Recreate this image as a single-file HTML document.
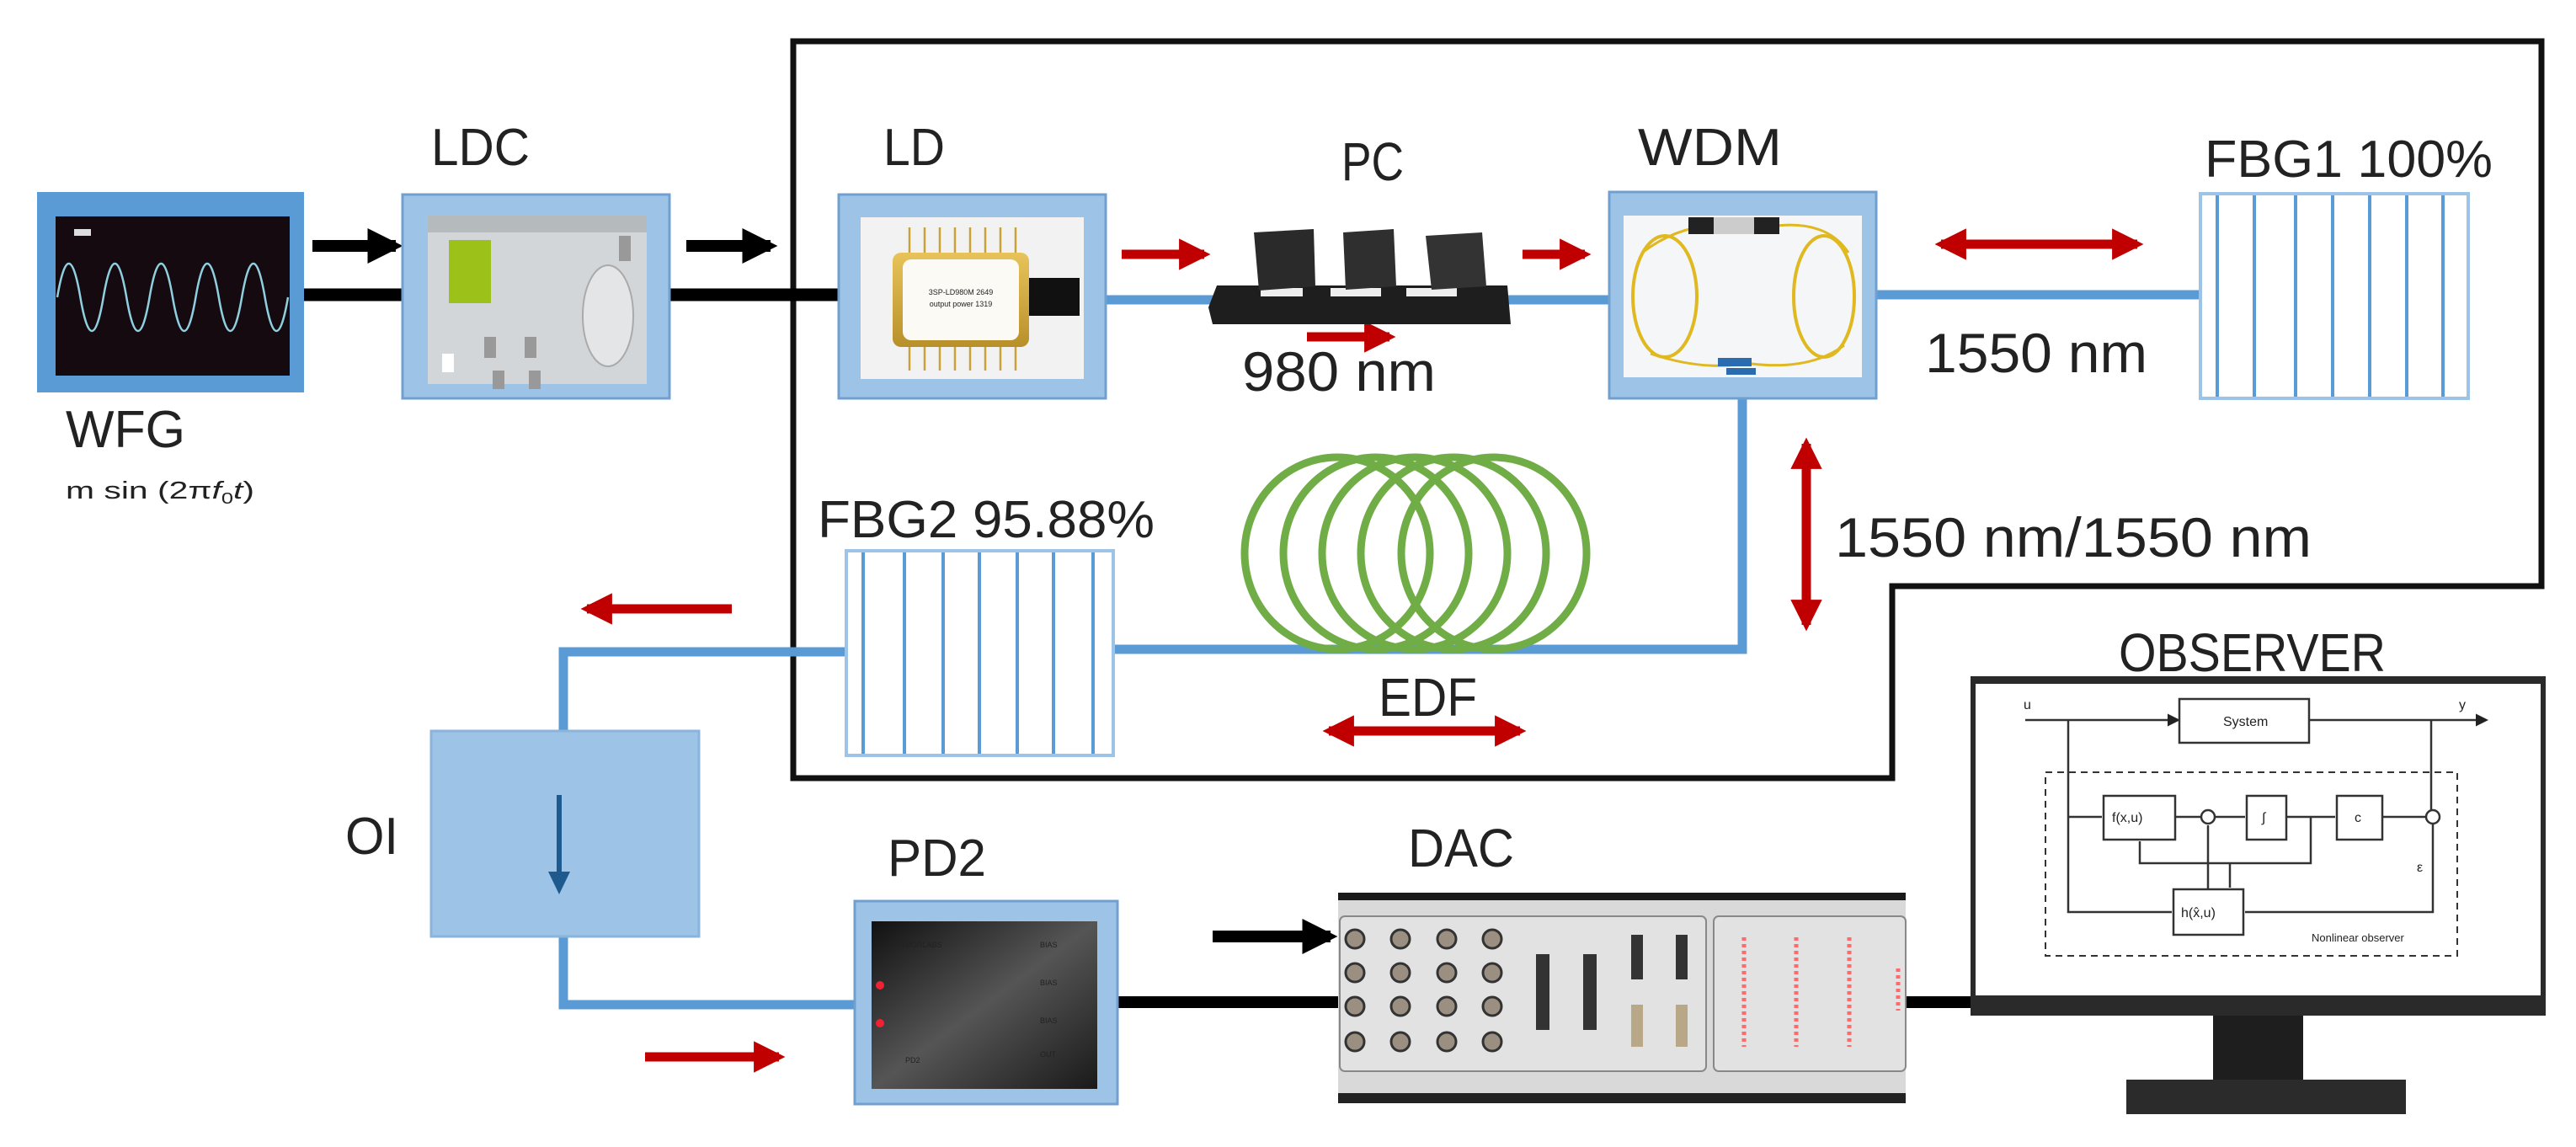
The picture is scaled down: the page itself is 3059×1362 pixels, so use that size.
<!DOCTYPE html>
<html><head><meta charset="utf-8"><style>
html,body{margin:0;padding:0;background:#fff;}
svg{display:block;}
text{font-family:"Liberation Sans",sans-serif;fill:#222;}
</style></head><body>
<svg width="3059" height="1362" viewBox="0 0 3059 1362" xmlns="http://www.w3.org/2000/svg">
<defs>
<marker id="ab" viewBox="0 0 10 10" refX="8" refY="5" markerWidth="3" markerHeight="3" orient="auto"><path d="M0,0L10,5L0,10z" fill="#000"/></marker>
<marker id="ar" viewBox="0 0 10 10" refX="8" refY="5" markerWidth="3.4" markerHeight="3.4" orient="auto-start-reverse"><path d="M0,0L10,5L0,10z" fill="#c00000"/></marker>
<marker id="as" viewBox="0 0 10 10" refX="8" refY="5" markerWidth="6" markerHeight="6" orient="auto"><path d="M0,0L10,5L0,10z" fill="#222"/></marker>
<linearGradient id="pd" x1="0" y1="0" x2="1" y2="1"><stop offset="0" stop-color="#111"/><stop offset="0.5" stop-color="#555"/><stop offset="1" stop-color="#1a1a1a"/></linearGradient>
<linearGradient id="gold" x1="0" y1="0" x2="0" y2="1"><stop offset="0" stop-color="#e8c35a"/><stop offset="1" stop-color="#b8902a"/></linearGradient>
</defs>

<!-- Frame -->
<path d="M942,49 L3018,49 L3018,696 L2247,696 L2247,924 L942,924 Z" fill="none" stroke="#111" stroke-width="7"/>

<!-- black electrical lines -->
<line x1="361" y1="350" x2="996" y2="350" stroke="#000" stroke-width="15"/>
<line x1="371" y1="292" x2="470" y2="292" stroke="#000" stroke-width="14" marker-end="url(#ab)"/>
<line x1="815" y1="292" x2="915" y2="292" stroke="#000" stroke-width="14" marker-end="url(#ab)"/>
<line x1="1327" y1="1190" x2="2340" y2="1190" stroke="#000" stroke-width="14"/>
<line x1="1440" y1="1112" x2="1580" y2="1112" stroke="#000" stroke-width="14" marker-end="url(#ab)"/>

<!-- blue fibres -->
<g stroke="#5b9bd5" stroke-width="11" fill="none">
<line x1="1313" y1="356" x2="1911" y2="356"/>
<line x1="2228" y1="350" x2="2613" y2="350"/>
<polyline points="2069,473 2069,771 1322,771"/>
<polyline points="1005,774 669,774 669,868"/>
<polyline points="669,1112 669,1193 1015,1193"/>
</g>

<!-- WFG -->
<rect x="44" y="228" width="317" height="238" fill="#5b9bd5"/>
<rect x="66" y="257" width="278" height="189" fill="#140a10"/>
<path d="M68,353 q13.7,-80 27.4,0 t27.4,0 t27.4,0 t27.4,0 t27.4,0 t27.4,0 t27.4,0 t27.4,0 t27.4,0 t27.4,0" fill="none" stroke="#8fd0e0" stroke-width="2.5"/>
<rect x="88" y="272" width="20" height="8" fill="#ddd"/>
<text x="78" y="531" font-size="62" textLength="142" lengthAdjust="spacingAndGlyphs">WFG</text>
<text x="78" y="592" font-size="29" fill="#444" textLength="224" lengthAdjust="spacingAndGlyphs">m sin (2π<tspan font-style="italic">f</tspan><tspan font-size="18" dy="6">0</tspan><tspan dy="-6" font-style="italic">t</tspan>)</text>

<!-- LDC -->
<rect x="478" y="231" width="317" height="242" fill="#9dc3e6" stroke="#6fa0d0" stroke-width="3"/>
<rect x="508" y="256" width="260" height="200" fill="#d3d6d8"/>
<rect x="508" y="256" width="260" height="20" fill="#b5babd"/>
<rect x="533" y="285" width="50" height="75" fill="#9cc21a"/>
<ellipse cx="722" cy="375" rx="30" ry="60" fill="#e3e5e6" stroke="#aaa" stroke-width="2"/>
<rect x="575" y="400" width="14" height="25" fill="#999"/><rect x="623" y="400" width="14" height="25" fill="#999"/>
<rect x="585" y="440" width="14" height="22" fill="#999"/><rect x="628" y="440" width="14" height="22" fill="#999"/>
<rect x="525" y="420" width="14" height="22" fill="#fff"/>
<rect x="735" y="280" width="14" height="30" fill="#999"/>
<text x="512" y="196" font-size="62" textLength="117" lengthAdjust="spacingAndGlyphs">LDC</text>

<!-- LD -->
<rect x="996" y="231" width="317" height="242" fill="#9dc3e6" stroke="#6fa0d0" stroke-width="3"/>
<rect x="1022" y="258" width="265" height="192" fill="#f2f2f2"/>
<g stroke="#c9a23a" stroke-width="2.5"><line x1="1080" y1="270" x2="1080" y2="440"/><line x1="1098" y1="270" x2="1098" y2="440"/><line x1="1116" y1="270" x2="1116" y2="440"/><line x1="1134" y1="270" x2="1134" y2="440"/><line x1="1152" y1="270" x2="1152" y2="440"/><line x1="1170" y1="270" x2="1170" y2="440"/><line x1="1188" y1="270" x2="1188" y2="440"/><line x1="1206" y1="270" x2="1206" y2="440"/></g>
<rect x="1060" y="300" width="162" height="112" rx="10" fill="url(#gold)"/>
<rect x="1072" y="308" width="138" height="96" rx="10" fill="#fbfaf5"/>
<rect x="1222" y="330" width="60" height="45" fill="#111"/>
<text x="1141" y="350" font-size="9" text-anchor="middle" fill="#555">3SP-LD980M 2649</text>
<text x="1141" y="364" font-size="9" text-anchor="middle" fill="#555">output power 1319</text>
<text x="1049" y="196" font-size="62" textLength="73" lengthAdjust="spacingAndGlyphs">LD</text>

<!-- red arrows -->
<g stroke="#c00000" stroke-width="11" fill="none">
<line x1="1332" y1="302" x2="1430" y2="302" marker-end="url(#ar)"/>
<line x1="1808" y1="302" x2="1882" y2="302" marker-end="url(#ar)"/>
<line x1="1552" y1="400" x2="1650" y2="400" marker-end="url(#ar)"/>
<line x1="2305" y1="290" x2="2538" y2="290" marker-end="url(#ar)" marker-start="url(#ar)"/>
<line x1="2145" y1="527" x2="2145" y2="742" marker-end="url(#ar)" marker-start="url(#ar)"/>
<line x1="869" y1="723" x2="697" y2="723" marker-end="url(#ar)"/>
<line x1="766" y1="1255" x2="925" y2="1255" marker-end="url(#ar)"/>
<line x1="1578" y1="868" x2="1805" y2="868" marker-end="url(#ar)" marker-start="url(#ar)"/>
</g>

<!-- PC -->
<path d="M1435,365 L1445,339 L1790,339 L1794,385 L1440,385 Z" fill="#1e1e1e"/>
<rect x="1497" y="342" width="50" height="10" fill="#eee"/><rect x="1580" y="342" width="60" height="10" fill="#eee"/><rect x="1670" y="342" width="60" height="10" fill="#eee"/>
<path d="M1489,276 L1560,272 L1562,340 L1495,345 Z" fill="#2a2a2a"/>
<path d="M1595,276 L1655,272 L1658,340 L1598,344 Z" fill="#2f2f2f"/>
<path d="M1693,280 L1760,276 L1765,340 L1700,344 Z" fill="#333"/>
<text x="1593" y="214" font-size="64" textLength="74" lengthAdjust="spacingAndGlyphs">PC</text>
<text x="1475" y="464" font-size="66" textLength="230" lengthAdjust="spacingAndGlyphs">980 nm</text>

<!-- WDM -->
<rect x="1911" y="228" width="317" height="245" fill="#9dc3e6" stroke="#6fa0d0" stroke-width="3"/>
<rect x="1928" y="256" width="283" height="192" fill="#f4f6f8"/>
<ellipse cx="1977" cy="352" rx="38" ry="72" fill="none" stroke="#e0b820" stroke-width="4"/>
<ellipse cx="2166" cy="352" rx="36" ry="72" fill="none" stroke="#e0b820" stroke-width="4"/>
<path d="M1950,300 Q2000,262 2060,268 M2110,268 Q2170,262 2195,300 M1960,420 Q2020,440 2070,432 M2080,432 Q2150,440 2190,410" fill="none" stroke="#e0b820" stroke-width="3"/>
<rect x="2005" y="258" width="108" height="20" fill="#222"/><rect x="2035" y="258" width="48" height="20" fill="#ccc"/>
<rect x="2040" y="425" width="40" height="10" fill="#2b6cb0"/><rect x="2050" y="437" width="35" height="8" fill="#2b6cb0"/>
<text x="1945" y="196" font-size="62" textLength="171" lengthAdjust="spacingAndGlyphs">WDM</text>

<!-- FBG1 -->
<rect x="2613" y="230" width="318" height="243" fill="#fff" stroke="#9dc3e6" stroke-width="4"/>
<g stroke="#5b9bd5" stroke-width="4"><line x1="2633" y1="232" x2="2633" y2="471"/><line x1="2677" y1="232" x2="2677" y2="471"/><line x1="2726" y1="232" x2="2726" y2="471"/><line x1="2770" y1="232" x2="2770" y2="471"/><line x1="2814" y1="232" x2="2814" y2="471"/><line x1="2858" y1="232" x2="2858" y2="471"/><line x1="2901" y1="232" x2="2901" y2="471"/></g>
<text x="2618" y="210" font-size="62" textLength="342" lengthAdjust="spacingAndGlyphs">FBG1 100%</text>
<text x="2286" y="442" font-size="66" textLength="264" lengthAdjust="spacingAndGlyphs">1550 nm</text>
<text x="2179" y="661" font-size="66" textLength="566" lengthAdjust="spacingAndGlyphs">1550 nm/1550 nm</text>

<!-- EDF coils -->
<g fill="none" stroke="#70ad47" stroke-width="9">
<ellipse cx="1588" cy="657" rx="110" ry="114"/>
<ellipse cx="1634" cy="657" rx="110" ry="114"/>
<ellipse cx="1680" cy="657" rx="110" ry="114"/>
<ellipse cx="1726" cy="657" rx="110" ry="114"/>
<ellipse cx="1774" cy="657" rx="110" ry="114"/>
</g>
<text x="1637" y="850" font-size="64" textLength="117" lengthAdjust="spacingAndGlyphs">EDF</text>

<!-- FBG2 -->
<rect x="1005" y="654" width="317" height="243" fill="#fff" stroke="#9dc3e6" stroke-width="4"/>
<g stroke="#5b9bd5" stroke-width="4"><line x1="1025" y1="656" x2="1025" y2="895"/><line x1="1074" y1="656" x2="1074" y2="895"/><line x1="1120" y1="656" x2="1120" y2="895"/><line x1="1163" y1="656" x2="1163" y2="895"/><line x1="1208" y1="656" x2="1208" y2="895"/><line x1="1251" y1="656" x2="1251" y2="895"/><line x1="1298" y1="656" x2="1298" y2="895"/></g>
<text x="971" y="638" font-size="62" textLength="400" lengthAdjust="spacingAndGlyphs">FBG2 95.88%</text>

<!-- OI -->
<rect x="512" y="868" width="318" height="244" fill="#9dc3e6" stroke="#8ab4dc" stroke-width="3"/>
<line x1="664" y1="944" x2="664" y2="1040" stroke="#1f5a8f" stroke-width="6"/>
<path d="M651,1035 L677,1035 L664,1062 Z" fill="#1f5a8f"/>
<text x="410" y="1014" font-size="62" textLength="63" lengthAdjust="spacingAndGlyphs">OI</text>

<!-- PD2 -->
<rect x="1015" y="1070" width="312" height="241" fill="#9dc3e6" stroke="#6fa0d0" stroke-width="3"/>
<rect x="1035" y="1094" width="268" height="199" fill="url(#pd)"/>
<circle cx="1045" cy="1170" r="5" fill="#e23"/><circle cx="1045" cy="1215" r="5" fill="#e23"/>
<g fill="#bbb" font-size="9"><text x="1070" y="1125">THORLABS</text><text x="1235" y="1125">BIAS</text><text x="1235" y="1170">BIAS</text><text x="1235" y="1215">BIAS</text><text x="1235" y="1255">OUT</text><text x="1075" y="1262">PD2</text></g>
<text x="1054" y="1040" font-size="62" textLength="117" lengthAdjust="spacingAndGlyphs">PD2</text>

<!-- DAC -->
<rect x="1589" y="1060" width="674" height="250" fill="#d9d9d9"/>
<rect x="1589" y="1060" width="674" height="9" fill="#1a1a1a"/>
<rect x="1589" y="1298" width="674" height="12" fill="#222"/>
<rect x="1591" y="1088" width="435" height="184" rx="6" fill="#e2e2e2" stroke="#888" stroke-width="2"/>
<rect x="2035" y="1088" width="228" height="184" rx="6" fill="#e2e2e2" stroke="#888" stroke-width="2"/>
<g fill="#9a8f80" stroke="#333" stroke-width="3">
<circle cx="1609" cy="1115" r="11"/><circle cx="1663" cy="1115" r="11"/><circle cx="1718" cy="1115" r="11"/><circle cx="1772" cy="1115" r="11"/>
<circle cx="1609" cy="1155" r="11"/><circle cx="1663" cy="1155" r="11"/><circle cx="1718" cy="1155" r="11"/><circle cx="1772" cy="1155" r="11"/>
<circle cx="1609" cy="1195" r="11"/><circle cx="1663" cy="1195" r="11"/><circle cx="1718" cy="1195" r="11"/><circle cx="1772" cy="1195" r="11"/>
<circle cx="1609" cy="1237" r="11"/><circle cx="1663" cy="1237" r="11"/><circle cx="1718" cy="1237" r="11"/><circle cx="1772" cy="1237" r="11"/>
</g>
<rect x="1824" y="1133" width="16" height="90" fill="#333"/><rect x="1880" y="1133" width="16" height="90" fill="#333"/>
<rect x="1937" y="1110" width="14" height="53" fill="#333"/><rect x="1990" y="1110" width="14" height="53" fill="#333"/>
<rect x="1937" y="1193" width="14" height="50" fill="#b8a888"/><rect x="1990" y="1193" width="14" height="50" fill="#b8a888"/>
<g stroke="#ff6a6a" stroke-width="5" stroke-dasharray="4 4"><line x1="2071" y1="1113" x2="2071" y2="1243"/><line x1="2133" y1="1113" x2="2133" y2="1243"/><line x1="2196" y1="1113" x2="2196" y2="1243"/><line x1="2254" y1="1150" x2="2254" y2="1200"/></g>
<text x="1672" y="1029" font-size="64" textLength="126" lengthAdjust="spacingAndGlyphs">DAC</text>

<!-- Monitor -->
<text x="2516" y="797" font-size="64" textLength="317" lengthAdjust="spacingAndGlyphs">OBSERVER</text>
<rect x="2340" y="803" width="683" height="403" fill="#2a2a2a"/>
<rect x="2346" y="812" width="671" height="370" fill="#fff"/>
<rect x="2628" y="1206" width="107" height="76" fill="#1e1e1e"/>
<rect x="2525" y="1282" width="332" height="41" fill="#2b2b2b"/>
<g fill="none" stroke="#333" stroke-width="2.5">
<line x1="2405" y1="855" x2="2586" y2="855" marker-end="url(#as)"/>
<rect x="2588" y="830" width="154" height="52"/>
<line x1="2742" y1="855" x2="2952" y2="855" marker-end="url(#as)"/>
<rect x="2429" y="917" width="489" height="218" stroke-dasharray="8 6" stroke-width="2"/>
<polyline points="2456,855 2456,1083 2579,1083"/>
<line x1="2456" y1="970" x2="2496" y2="970"/>
<rect x="2498" y="945" width="85" height="52"/>
<line x1="2583" y1="970" x2="2614" y2="970"/>
<circle cx="2622" cy="970" r="8"/>
<line x1="2630" y1="970" x2="2666" y2="970"/>
<rect x="2668" y="945" width="47" height="52"/>
<line x1="2715" y1="970" x2="2773" y2="970"/>
<rect x="2775" y="945" width="54" height="52"/>
<line x1="2829" y1="970" x2="2881" y2="970"/>
<circle cx="2889" cy="970" r="8"/>
<polyline points="2887,855 2887,962"/>
<polyline points="2889,978 2889,1083 2666,1083"/>
<rect x="2581" y="1056" width="83" height="54"/>
<polyline points="2744,970 2744,1025 2541,1025 2541,999"/>
<line x1="2622" y1="1056" x2="2622" y2="980"/>
<line x1="2648" y1="1025" x2="2648" y2="1054"/>
</g>
<g font-family="Liberation Serif,serif" font-size="16" fill="#333">
<text x="2640" y="862">System</text><text x="2403" y="842">u</text><text x="2920" y="842">y</text>
<text x="2508" y="976">f(x,u)</text><text x="2686" y="976">∫</text><text x="2796" y="976">c</text>
<text x="2590" y="1089">h(x̂,u)</text><text x="2745" y="1118" font-size="13">Nonlinear observer</text><text x="2870" y="1035">ε</text>
</g>
</svg>
</body></html>
